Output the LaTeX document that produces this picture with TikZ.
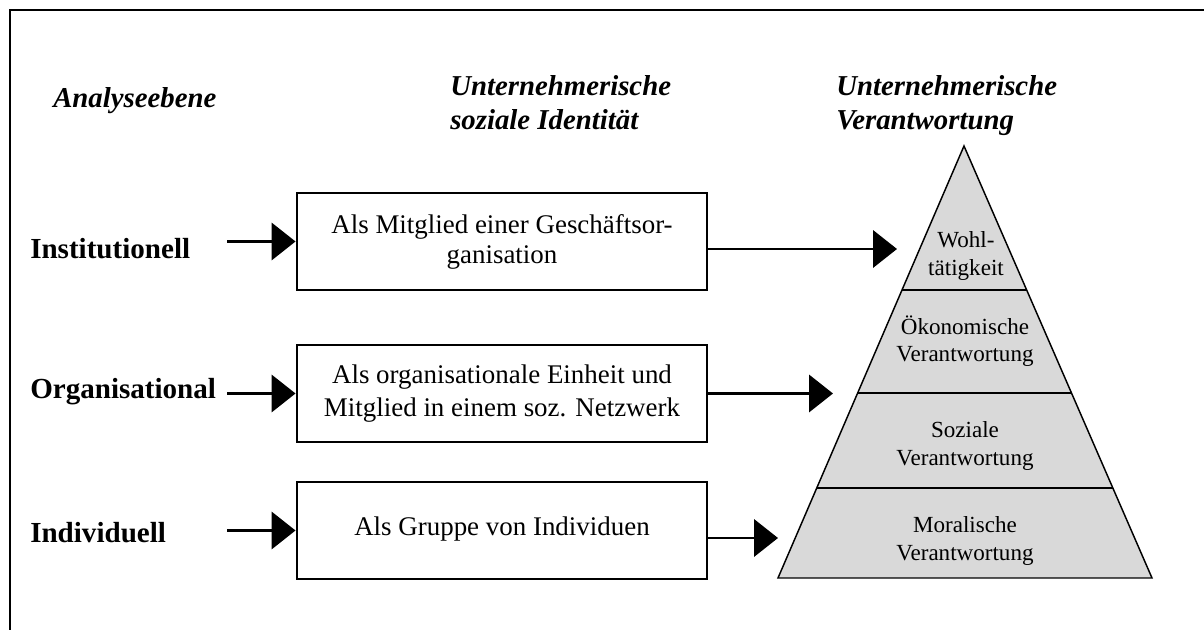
\documentclass[tikz,border=0pt]{standalone}
\usepackage{fontspec}
\setmainfont{Liberation Serif}
\usetikzlibrary{arrows.meta,calc}

\begin{document}
\begin{tikzpicture}[x=0.75pt,y=-0.75pt,
    head/.style={font=\fontsize{21.6}{25.5}\selectfont\bfseries\itshape, inner sep=0pt, align=left},
    level/.style={font=\fontsize{21.8}{24}\selectfont\bfseries, inner sep=0pt, anchor=base west},
    idbox/.style={draw, line width=2.2pt, minimum width=307.5pt, minimum height=72.75pt,
        align=center, inner sep=0pt, font=\fontsize{20.2}{22.5}\selectfont},
    flow/.style={line width=2pt, -{Triangle[length=18pt,width=28pt]}},
    layer/.style={align=center, font=\fontsize{17.3}{20.3}\selectfont, inner sep=0pt}]

    \useasboundingbox (0,0) rectangle (1204,630);

    % Outer frame (only left and top edge are visible)
    \draw[line width=1.9pt] (10,650) -- (10,10) -- (1220,10);

    % Column headings
    \node[head, anchor=base west] (ebene) at (53,108) {Analyseebene};
    \node[head, anchor=north west] (ident) at (450,75) {Unternehmerische\\soziale Identität};
    \node[head, anchor=north west] (verant) at (836,75) {Unternehmerische\\Verantwortung};

    % Levels of analysis
    \node[level] (inst) at (30,259) {Institutionell};
    \node[level] (org) at (30,399) {Organisational};
    \node[level] (indiv) at (30,543) {Individuell};

    % Identity boxes
    \node[idbox] (b1) at (502,241.5) {Als Mitglied einer Geschäftsor-\\ganisation};
    \node[idbox] (b2) at (502,393.5) {\raisebox{4pt}{\shortstack{Als organisationale Einheit und\\[3pt]Mitglied in einem soz. Netzwerk}}};
    \node[idbox] (b3) at (502,530.5) {\raisebox{6pt}{Als Gruppe von Individuen}};

    % Arrows into the boxes
    \coordinate (in1) at (227,241.5);
    \coordinate (in2) at (227,393.5);
    \coordinate (in3) at (227,530.5);
    \draw[flow] (in1) -- (b1.west);
    \draw[flow] (in2) -- (b2.west);
    \draw[flow] (in3) -- (b3.west);

    % Pyramid corners
    \coordinate (apex) at (964,146);
    \coordinate (bl) at (778,578);
    \coordinate (br) at (1152,578);

    % Draw the pyramid and its layers
    \draw[fill={rgb,255:red,217;green,217;blue,217}, line width=1.1pt, line join=miter] (apex) -- (bl) -- (br) -- cycle;
    \foreach \f in {0.3333,0.5718,0.7917}
        \draw[line width=1.1pt] ($(apex)!\f!(bl)$) -- ($(apex)!\f!(br)$);

    % Arrows out of the boxes towards the pyramid
    \coordinate (out1) at (897,249);
    \coordinate (out2) at (833,393.5);
    \coordinate (out3) at (778,538);
    \draw[flow] (b1.east |- out1) -- (out1);
    \draw[flow] (b2.east) -- (out2);
    \draw[flow] (b3.east |- out3) -- (out3);

    % Layer labels
    \node[layer] (wohl) at (966,256) {Wohl-\\tätigkeit};
    \node[layer] (oeko) at (965,341) {Ökonomische\\Verantwortung};
    \node[layer] (sozial) at (965,446) {Soziale\\Verantwortung};
    \node[layer] (moral) at (965,541) {Moralische\\Verantwortung};

\end{tikzpicture}
\end{document}
